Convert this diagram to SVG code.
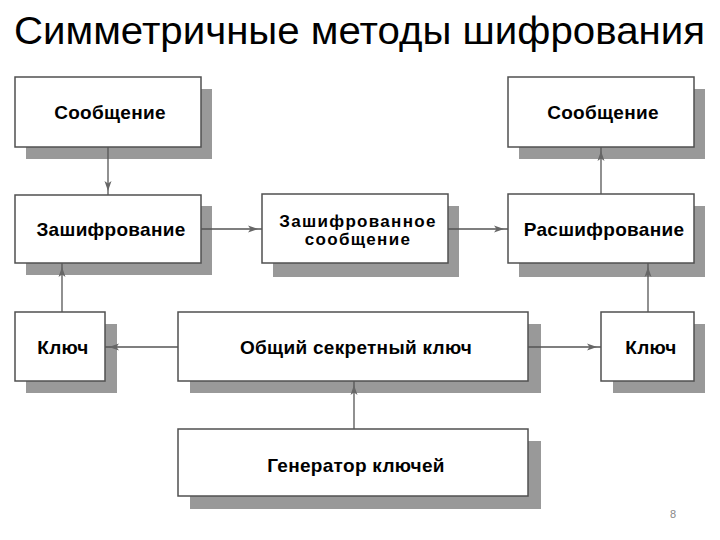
<svg xmlns="http://www.w3.org/2000/svg" width="720" height="540" viewBox="0 0 720 540">
<style>
.shadow{fill:#999999;stroke:none}
.box{fill:#ffffff;stroke:#505050;stroke-width:1.5}
.lbl{font-family:"Liberation Sans",Arial,sans-serif;font-weight:bold;font-size:19px;letter-spacing:0.3px;fill:#000;text-anchor:middle}
.lbl2{font-size:17px;letter-spacing:1.3px}
.conn{stroke:#555555;stroke-width:1.3;fill:none;marker-end:url(#ah)}
.title{font-family:"Liberation Sans",Arial,sans-serif;font-size:38px;fill:#000}
</style>
<defs>
<marker id="ah" markerUnits="userSpaceOnUse" viewBox="0 0 14 8" refX="14" refY="4" markerWidth="14" markerHeight="8" orient="auto">
<path d="M0,0.5 L10,4 L0,7.5 L2.5,4 Z" fill="#666666"/>
</marker>
</defs>
<rect width="720" height="540" fill="#ffffff"/>
<text class="title" x="14" y="44" textLength="691" lengthAdjust="spacingAndGlyphs">Симметричные методы шифрования</text>

<g id="msg1">
<rect class="shadow" x="26" y="89" width="186" height="70"/>
<rect class="box" x="15" y="77" width="186" height="70"/>
<text class="lbl" x="110" y="119">Сообщение</text>
</g>
<g id="encrypt">
<rect class="shadow" x="26" y="206" width="186" height="69"/>
<rect class="box" x="15" y="195" width="186" height="68"/>
<text class="lbl" x="111" y="236">Зашифрование</text>
</g>
<g id="ciphertext">
<rect class="shadow" x="273" y="206" width="186" height="71"/>
<rect class="box" x="262" y="194" width="186" height="69"/>
<text class="lbl lbl2" x="358" y="227">Зашифрованное</text>
<text class="lbl lbl2" x="358" y="245">сообщение</text>
</g>
<g id="decrypt">
<rect class="shadow" x="519" y="206" width="186" height="71"/>
<rect class="box" x="508" y="194" width="186" height="69"/>
<text class="lbl" x="604" y="236">Расшифрование</text>
</g>
<g id="msg2">
<rect class="shadow" x="519" y="89" width="186" height="70"/>
<rect class="box" x="508" y="77" width="186" height="70"/>
<text class="lbl" x="603" y="119">Сообщение</text>
</g>
<g id="key1">
<rect class="shadow" x="26" y="324" width="91" height="69"/>
<rect class="box" x="15" y="312" width="90" height="69"/>
<text class="lbl" x="63" y="354">Ключ</text>
</g>
<g id="sharedkey">
<rect class="shadow" x="190" y="324" width="351" height="69"/>
<rect class="box" x="178" y="312" width="350" height="69"/>
<text class="lbl" x="356" y="354">Общий секретный ключ</text>
</g>
<g id="key2">
<rect class="shadow" x="613" y="324" width="92" height="69"/>
<rect class="box" x="601" y="312" width="93" height="69"/>
<text class="lbl" x="651" y="354">Ключ</text>
</g>
<g id="generator">
<rect class="shadow" x="190" y="441" width="351" height="68"/>
<rect class="box" x="178" y="429" width="350" height="67"/>
<text class="lbl" x="356" y="472">Генератор ключей</text>
</g>

<g id="connectors">
<line class="conn" x1="108" y1="147" x2="108" y2="195"/>
<line class="conn" x1="201" y1="229" x2="262" y2="229"/>
<line class="conn" x1="448" y1="229" x2="508" y2="229"/>
<line class="conn" x1="601" y1="194" x2="601" y2="147"/>
<line class="conn" x1="62" y1="312" x2="62" y2="263"/>
<line class="conn" x1="648" y1="312" x2="648" y2="263"/>
<line class="conn" x1="178" y1="347" x2="105" y2="347"/>
<line class="conn" x1="528" y1="347" x2="601" y2="347"/>
<line class="conn" x1="354" y1="429" x2="354" y2="381"/>
</g>
<text x="673" y="518" font-family="Liberation Sans,Arial,sans-serif" font-size="11" fill="#888888" text-anchor="middle">8</text>
</svg>
